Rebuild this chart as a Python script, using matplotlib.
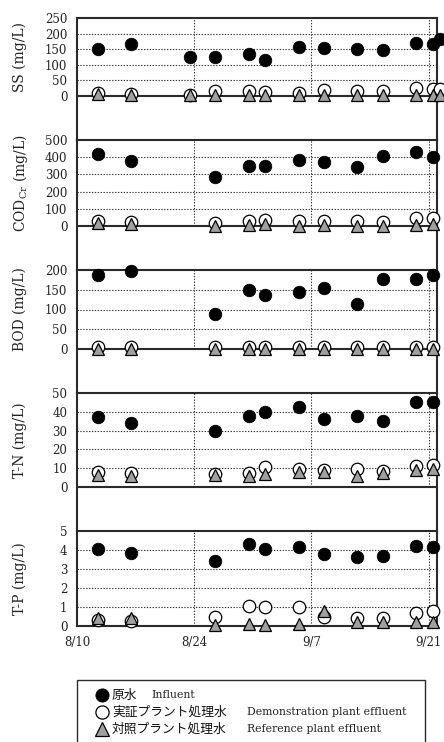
import matplotlib
matplotlib.use('Agg')
import matplotlib.pyplot as plt
import numpy as np
from matplotlib.patches import Rectangle
from matplotlib.lines import Line2D

plt.rcParams['font.family'] = ['DejaVu Serif', 'Noto Sans CJK JP']
plt.rcParams['mathtext.fontset'] = 'dejavuserif'

# ---------------- data ----------------
# sampling days, counted in days from 8/10 (samples taken at noon)
day = [2.5, 6.5, 13.5, 16.5, 20.5, 22.5, 26.5, 29.5, 33.5, 36.5, 40.5, 42.5, 43.4]
nan = np.nan

ss_inf = [151, 166, 124, 126, 135, 116, 156, 153, 151, 148, 170, 168, 184]
ss_demo = [11, 8, 4, 16, 15, 13, 10, 18, 15, 16, 27, 24, 24]
ss_ref = [8, 4, 3, 4, 3, 3, 2, 3, 3, 3, 4, 4, 4]

cod_inf = [417, 376, nan, 285, 351, 347, 384, 370, 341, 405, 428, 399, nan]
cod_demo = [29, 23, nan, 19, 31, 35, 27, 31, 29, 21, 48, 45, nan]
cod_ref = [19, 10, nan, 0, 4, 12, 2, 4, 2, 2, 6, 12, nan]

bod_inf = [187, 197, nan, 89, 150, 137, 145, 155, 113, 176, 176, 187, nan]
bod_demo = [5, 5, nan, 5, 5, 5, 5, 5, 5, 5, 5, 5, nan]
bod_ref = [0, 0, nan, 0, 0, 0, 0, 0, 0, 0, 0, 0, nan]

tn_inf = [37.1, 34.3, nan, 29.9, 37.8, 40.1, 42.6, 36.4, 37.8, 35.3, 45.1, 45.1, nan]
tn_demo = [8.0, 7.2, nan, 6.9, 7.6, 10.4, 9.7, 9.0, 9.7, 8.5, 11.3, 11.7, nan]
tn_ref = [6.5, 5.7, nan, 6.2, 5.7, 6.9, 8.0, 8.1, 5.7, 7.4, 9.2, 9.7, nan]

tp_inf = [4.07, 3.85, nan, 3.41, 4.30, 4.04, 4.14, 3.81, 3.65, 3.71, 4.20, 4.16, nan]
tp_demo = [0.30, 0.26, nan, 0.47, 1.07, 0.98, 0.98, 0.47, 0.44, 0.40, 0.70, 0.80, nan]
tp_ref = [0.44, 0.40, nan, 0.05, 0.12, 0.05, 0.12, 0.79, 0.19, 0.19, 0.19, 0.23, nan]

panel_labels = ['SS (mg/L)', 'COD$_{\\rm Cr}$ (mg/L)', 'BOD (mg/L)', 'T-N (mg/L)', 'T-P (mg/L)']
panel_ticks = [[0, 50, 100, 150, 200, 250],
               [0, 100, 200, 300, 400, 500],
               [0, 50, 100, 150, 200],
               [0, 10, 20, 30, 40, 50],
               [0, 1, 2, 3, 4, 5]]
panel_data = [(ss_inf, ss_demo, ss_ref), (cod_inf, cod_demo, cod_ref),
              (bod_inf, bod_demo, bod_ref), (tn_inf, tn_demo, tn_ref),
              (tp_inf, tp_demo, tp_ref)]

x_tick_days = [0, 14, 28, 42]
x_tick_labels = ['8/10', '8/24', '9/7', '9/21']

legend_jp = ['原水', '実証プラント処理水', '対照プラント処理水']
legend_en = ['Influent', 'Demonstration plant effluent', 'Reference plant effluent']

# ---------------- layout ----------------
W, H = 444, 742
fig = plt.figure(figsize=(W / 100, H / 100), dpi=100)

left_px, right_px = 77, 437
tops = [18, 140, 270, 393, 531]
zeros = [96, 226, 349, 487, 626]
gap = 44
spine_c = '#2a2a2a'
grid_c = '#333333'
dot = (0, (1.2, 1.4))

styles = [dict(marker='o', ms=9, mfc='black', mec='black', mew=0.6),
          dict(marker='o', ms=9, mfc='white', mec='black', mew=0.9),
          dict(marker='^', ms=8.6, mfc='#a0a0a0', mec='black', mew=0.9)]

for i in range(5):
    top, zero = tops[i], zeros[i]
    bottom = zero + (gap if i < 4 else 0)
    ax = fig.add_axes([left_px / W, 1 - bottom / H, (right_px - left_px) / W, (bottom - top) / H])
    ticks = panel_ticks[i]
    tmax = ticks[-1]
    scale = tmax / (zero - top)
    ax.set_ylim(-(bottom - zero) * scale, tmax)
    ax.set_xlim(0, 43)

    for s in ['left', 'right', 'top']:
        ax.spines[s].set_linewidth(1.5)
        ax.spines[s].set_color(spine_c)
    if i < 4:
        ax.spines['bottom'].set_visible(False)
        ax.axhline(0, color=spine_c, lw=1.5, zorder=2)
    else:
        ax.spines['bottom'].set_linewidth(1.5)
        ax.spines['bottom'].set_color(spine_c)

    for v in ticks[1:-1]:
        ax.axhline(v, color=grid_c, lw=0.8, ls=dot, zorder=1)
    ax.vlines(x_tick_days[1:], 0, tmax, colors=grid_c, lw=0.8, linestyles=[dot], zorder=1)

    ax.set_yticks(ticks)
    ax.set_yticklabels([str(t) for t in ticks])
    ax.tick_params(axis='y', length=0, pad=7, labelsize=8.5, colors='#222222')
    ax.set_xticks(x_tick_days)
    if i == 4:
        ax.set_xticklabels(x_tick_labels)
        ax.tick_params(axis='x', length=0, pad=7, labelsize=8.5, colors='#222222')
    else:
        ax.tick_params(axis='x', length=0, labelbottom=False)

    inf, demo, ref = panel_data[i]
    for vals, st, z in zip((inf, demo, ref), styles, (4, 5, 6)):
        ax.plot(day, vals, ls='none', clip_on=False, zorder=z, **st)

    ax.text(-(left_px - 20) / (right_px - left_px), tmax / 2, panel_labels[i],
            transform=ax.get_yaxis_transform(), rotation=90,
            ha='center', va='center', fontsize=10, color='#222222')

# ---------------- legend ----------------
fig.add_artist(Rectangle((77 / W, -0.05), (425 - 77) / W, (742 - 680) / H + 0.05,
                         transform=fig.transFigure, fill=False, ec=spine_c, lw=1.0))
rows = [695, 712, 729]
en_x = [151, 247, 247]
for k in range(3):
    y = 1 - rows[k] / H
    st = dict(styles[k])
    st['ms'] = 9.5
    fig.add_artist(Line2D([102 / W], [y], transform=fig.transFigure, ls='none', **st))
    fig.text(112 / W, y, legend_jp[k], family=['Noto Sans CJK JP'], fontsize=9.2,
             ha='left', va='center', color='#111111')
    fig.text(en_x[k] / W, y, legend_en[k], fontsize=7.8, ha='left', va='center', color='#222222')

fig.savefig('out.png', dpi=100)
